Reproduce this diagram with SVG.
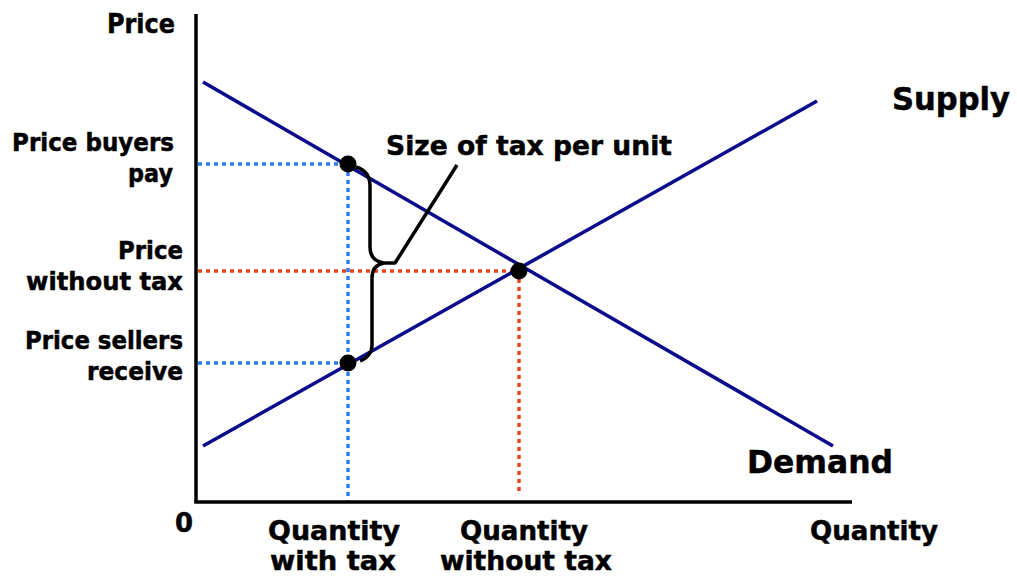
<svg xmlns="http://www.w3.org/2000/svg" width="1017" height="576" viewBox="0 0 1017 576">
<style>
text{font-family:"DejaVu Sans","Verdana",sans-serif;font-weight:bold;fill:#000;stroke:#000;stroke-width:0.5;font-size:25px}
.lg{font-size:27px}
.big{font-size:32px}
.r{text-anchor:end}
.m{text-anchor:middle}
.curve{stroke:#0b0b8c;stroke-width:3.5;fill:none}
.axis{stroke:#000;stroke-width:3.5;fill:none}
.blue{stroke:#2f7cf0;stroke-width:3.5;stroke-dasharray:4 4;fill:none}
.red{stroke:#e8461e;stroke-width:3.5;stroke-dasharray:4 4;fill:none}
.dot{fill:#000}
</style>
<rect width="1017" height="576" fill="#fff"/>
<g id="guides">
<line class="blue" x1="198" y1="164" x2="348" y2="164"/>
<line class="blue" x1="198" y1="363" x2="348" y2="363"/>
<line class="blue" x1="348" y1="164" x2="348" y2="502"/>
<line class="red" x1="198" y1="271" x2="519" y2="271"/>
<line class="red" x1="519" y1="271" x2="519" y2="494"/>
</g>
<g id="axes">
<line class="axis" x1="196" y1="14" x2="196" y2="502"/>
<line class="axis" x1="194.25" y1="502" x2="852" y2="502"/>
</g>
<g id="connectors">
<line id="demand-line" class="curve" x1="203" y1="82" x2="833" y2="446"/>
<line id="supply-line" class="curve" x1="203" y1="446" x2="817" y2="101"/>
<path id="brace" d="M356,167 Q370,171 370,186 L370,247 Q370,261 384,263 L395,263 L457,165 M384,263 Q372,265 372,278 L372,345 Q372,356 360,361" fill="none" stroke="#000" stroke-width="3.5" stroke-linejoin="round"/>
</g>
<g id="points">
<circle class="dot" cx="348" cy="164" r="8.5"/>
<circle class="dot" cx="348" cy="363" r="8.5"/>
<circle class="dot" cx="519" cy="271" r="8.5"/>
</g>
<g id="labels">
<text class="lg r" x="175" y="33" textLength="68" lengthAdjust="spacingAndGlyphs">Price</text>
<text class="r" x="174" y="151" textLength="162" lengthAdjust="spacingAndGlyphs">Price buyers</text>
<text class="r" x="173" y="182" textLength="45" lengthAdjust="spacingAndGlyphs">pay</text>
<text class="r" x="183" y="259" textLength="65" lengthAdjust="spacingAndGlyphs">Price</text>
<text class="r" x="183" y="290" textLength="157" lengthAdjust="spacingAndGlyphs">without tax</text>
<text class="r" x="183" y="349" textLength="158" lengthAdjust="spacingAndGlyphs">Price sellers</text>
<text class="r" x="183" y="380" textLength="96" lengthAdjust="spacingAndGlyphs">receive</text>
<text class="lg" x="175" y="532" textLength="18" lengthAdjust="spacingAndGlyphs">0</text>
<text class="lg" x="268" y="540" textLength="132" lengthAdjust="spacingAndGlyphs">Quantity</text>
<text class="lg" x="270" y="570" textLength="126" lengthAdjust="spacingAndGlyphs">with tax</text>
<text class="lg" x="460" y="540" textLength="128" lengthAdjust="spacingAndGlyphs">Quantity</text>
<text class="lg" x="440" y="570" textLength="172" lengthAdjust="spacingAndGlyphs">without tax</text>
<text class="lg" x="810" y="540" textLength="128" lengthAdjust="spacingAndGlyphs">Quantity</text>
<text class="lg" x="386" y="155" textLength="286" lengthAdjust="spacingAndGlyphs">Size of tax per unit</text>
<text class="big" x="892" y="110" textLength="118" lengthAdjust="spacingAndGlyphs">Supply</text>
<text class="big" x="747" y="473" textLength="146" lengthAdjust="spacingAndGlyphs">Demand</text>
</g>
</svg>
